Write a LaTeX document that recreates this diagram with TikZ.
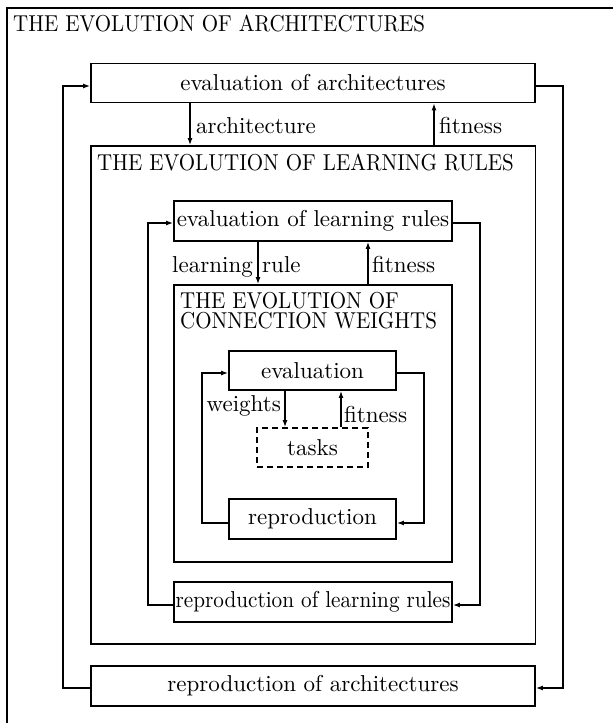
\documentclass[tikz,border=0pt]{standalone}
\usepackage{graphicx}
\usetikzlibrary{arrows.meta}
\newcommand{\bt}[1]{\scalebox{2.3}{#1}}
\newcommand{\ct}[1]{\scalebox{2.1}[2.3]{#1}}
\begin{document}
\begin{tikzpicture}[x=1pt,y=-1pt,
  every node/.style={inner sep=0pt},
  box/.style={draw, line width=1.8pt, inner sep=0pt},
  dbox/.style={box, dash pattern=on 6pt off 4pt},
  frame/.style={draw, line width=1.8pt},
  conn/.style={line width=1.8pt},
  arr/.style={conn, -{Latex[length=7pt,width=5pt]}}]
\useasboundingbox (0,0) rectangle (613,723);
\clip (0,0) rectangle (613,723);
\draw[frame] (7,8) rectangle (650,760);
\node[anchor=base west] (t1) at (13,31) {\ct{THE EVOLUTION OF ARCHITECTURES}};
\node[box, minimum width=444pt, minimum height=39pt] (ea) at (313,83) {\raisebox{-2pt}{\bt{evaluation of architectures}}};
\node[box, minimum width=444.5pt, minimum height=498pt] (lr) at (313.25,395) {};
\node[anchor=base west] (t2) at (97,170) {\ct{THE EVOLUTION OF LEARNING RULES}};
\node[box, minimum width=444pt, minimum height=40pt] (ra) at (313,686) {\bt{reproduction of architectures}};
\node[box, minimum width=278pt, minimum height=40pt] (elr) at (313,221) {\bt{evaluation of learning rules}};
\node[box, minimum width=278pt, minimum height=277pt] (cw) at (313,423.5) {};
\node[anchor=base west] (t3a) at (180,308.5) {\ct{THE EVOLUTION OF}};
\node[anchor=base west] (t3b) at (180,328) {\ct{CONNECTION WEIGHTS}};
\node[box, minimum width=278pt, minimum height=40pt] (rlr) at (313,602) {\scalebox{2.12}[2.3]{reproduction of learning rules}};
\node[box, minimum width=167pt, minimum height=39pt] (ev) at (312.5,370.5) {\bt{evaluation}};
\node[dbox, minimum width=111pt, minimum height=39pt] (tk) at (312.5,447.5) {\bt{tasks}};
\node[box, minimum width=167pt, minimum height=40pt] (rp) at (312.5,519) {\bt{reproduction}};
% outer loop
\draw[arr] ([yshift=-2pt]ra.west) -- ++(-27,0) |- ([yshift=-3pt]ea.west);
\draw[arr] ([yshift=-3pt]ea.east) -- ++(27,0) |- ([yshift=-2pt]ra.east);
\draw[arr] ([xshift=-123pt]ea.south) -- ([xshift=-123pt]ea.south |- lr.north);
\draw[arr] ([xshift=121pt]ea.south |- lr.north) -- ([xshift=121pt]ea.south);
% middle loop
\draw[arr] ([yshift=-3pt]rlr.west) -- ++(-25,0) |- ([yshift=-2pt]elr.west);
\draw[arr] ([yshift=-2pt]elr.east) -- ++(27,0) |- ([yshift=-3pt]rlr.east);
\draw[arr] ([xshift=-55pt]elr.south) -- ([xshift=-55pt]elr.south |- cw.north);
\draw[arr] ([xshift=55pt]elr.south |- cw.north) -- ([xshift=55pt]elr.south);
% inner loop
\draw[arr] ([yshift=-4pt]rp.west) -- ++(-26,0) |- ([yshift=-2.5pt]ev.west);
\draw[arr] ([yshift=-2.5pt]ev.east) -- ++(27,0) |- ([yshift=-4pt]rp.east);
\draw[arr] ([xshift=-27.5pt]ev.south) -- ([xshift=-27.5pt]ev.south |- tk.north);
\draw[arr] ([xshift=28.5pt]ev.south |- tk.north) -- ([xshift=28.5pt]ev.south);
% labels
\node[anchor=base west] (l1) at (196,133) {\bt{architecture}};
\node[anchor=base west] (l2) at (439,133) {\bt{fitness}};
\node[anchor=base east] (l3) at (253,272) {\bt{learning}};
\node[anchor=base west] (l4) at (262,272) {\bt{rule}};
\node[anchor=base west] (l5) at (372,272) {\bt{fitness}};
\node[anchor=base east] (l6) at (281,411) {\bt{weights}};
\node[anchor=base west] (l7) at (344,422) {\bt{fitness}};
\end{tikzpicture}
\end{document}
